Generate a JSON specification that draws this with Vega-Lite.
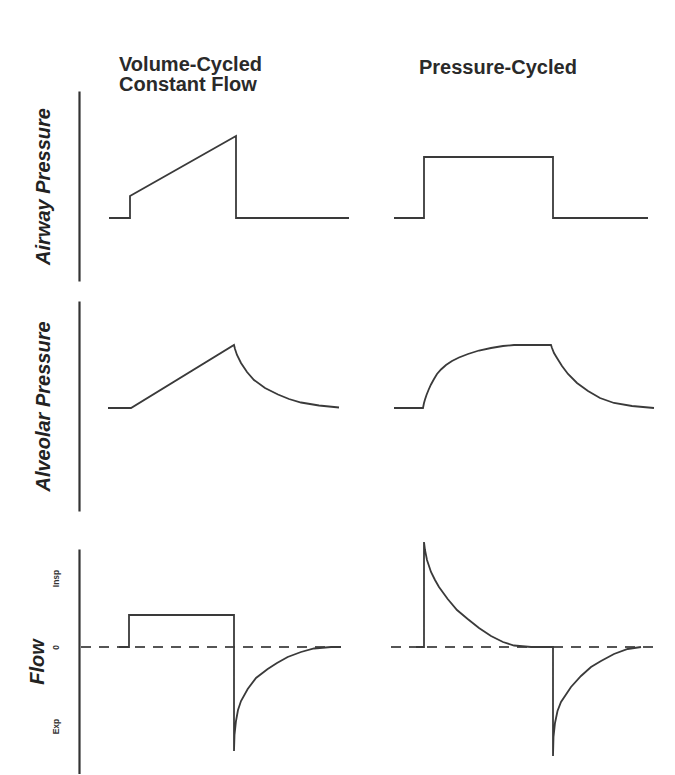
{
  "$schema": "https://vega.github.io/schema/vega-lite/v6.json",
  "autosize": {"type": "pad"},
  "padding": {"top": 54, "left": 27, "right": 5, "bottom": 0},
  "background": "white",
  "config": {
    "view": {"stroke": null},
    "font": "Liberation Sans",
    "axis": {
      "domainColor": "#333333",
      "domainWidth": 2.2,
      "ticks": false,
      "tickSize": 0,
      "grid": false,
      "labels": false,
      "titleFont": "Liberation Sans",
      "titleFontSize": 20,
      "titleFontWeight": "bold",
      "titleFontStyle": "italic",
      "titleColor": "#222222",
      "titlePadding": 26
    }
  },
  "datasets": {
    "traces": [
      {"row": "air", "s": "L", "i": 1, "x": 30, "y": 0},
      {"row": "air", "s": "L", "i": 2, "x": 51, "y": 0},
      {"row": "air", "s": "L", "i": 3, "x": 51, "y": 22},
      {"row": "air", "s": "L", "i": 4, "x": 157, "y": 82},
      {"row": "air", "s": "L", "i": 5, "x": 157, "y": 0},
      {"row": "air", "s": "L", "i": 6, "x": 270, "y": 0},
      {"row": "air", "s": "R", "i": 7, "x": 315, "y": 0},
      {"row": "air", "s": "R", "i": 8, "x": 345, "y": 0},
      {"row": "air", "s": "R", "i": 9, "x": 345, "y": 61},
      {"row": "air", "s": "R", "i": 10, "x": 474, "y": 61},
      {"row": "air", "s": "R", "i": 11, "x": 474, "y": 0},
      {"row": "air", "s": "R", "i": 12, "x": 569, "y": 0},

      {"row": "alv", "s": "L", "i": 1, "x": 29, "y": 0},
      {"row": "alv", "s": "L", "i": 2, "x": 52, "y": 0},
      {"row": "alv", "s": "L", "i": 3, "x": 155, "y": 63},
      {"row": "alv", "s": "L", "i": 4, "x": 156, "y": 59},
      {"row": "alv", "s": "L", "i": 5, "x": 158, "y": 53},
      {"row": "alv", "s": "L", "i": 6, "x": 162, "y": 45},
      {"row": "alv", "s": "L", "i": 7, "x": 168, "y": 36},
      {"row": "alv", "s": "L", "i": 8, "x": 175, "y": 28},
      {"row": "alv", "s": "L", "i": 9, "x": 186, "y": 20},
      {"row": "alv", "s": "L", "i": 10, "x": 199, "y": 13.5},
      {"row": "alv", "s": "L", "i": 11, "x": 210, "y": 9},
      {"row": "alv", "s": "L", "i": 12, "x": 222, "y": 5.5},
      {"row": "alv", "s": "L", "i": 13, "x": 240, "y": 2.5},
      {"row": "alv", "s": "L", "i": 14, "x": 260, "y": 0.5},
      {"row": "alv", "s": "R", "i": 15, "x": 315, "y": 0},
      {"row": "alv", "s": "R", "i": 16, "x": 344, "y": 0},
      {"row": "alv", "s": "R", "i": 17, "x": 345, "y": 5},
      {"row": "alv", "s": "R", "i": 18, "x": 346, "y": 8.5},
      {"row": "alv", "s": "R", "i": 19, "x": 347.5, "y": 13},
      {"row": "alv", "s": "R", "i": 20, "x": 349.5, "y": 18},
      {"row": "alv", "s": "R", "i": 21, "x": 352, "y": 23.5},
      {"row": "alv", "s": "R", "i": 22, "x": 355, "y": 29},
      {"row": "alv", "s": "R", "i": 23, "x": 358, "y": 34},
      {"row": "alv", "s": "R", "i": 24, "x": 362, "y": 38.5},
      {"row": "alv", "s": "R", "i": 25, "x": 367, "y": 43},
      {"row": "alv", "s": "R", "i": 26, "x": 373, "y": 47},
      {"row": "alv", "s": "R", "i": 27, "x": 380, "y": 50.5},
      {"row": "alv", "s": "R", "i": 28, "x": 389, "y": 54},
      {"row": "alv", "s": "R", "i": 29, "x": 400, "y": 57.5},
      {"row": "alv", "s": "R", "i": 30, "x": 412, "y": 60},
      {"row": "alv", "s": "R", "i": 31, "x": 424, "y": 62},
      {"row": "alv", "s": "R", "i": 32, "x": 435, "y": 63},
      {"row": "alv", "s": "R", "i": 33, "x": 472, "y": 63},
      {"row": "alv", "s": "R", "i": 34, "x": 473, "y": 60},
      {"row": "alv", "s": "R", "i": 35, "x": 475, "y": 55},
      {"row": "alv", "s": "R", "i": 36, "x": 478, "y": 50},
      {"row": "alv", "s": "R", "i": 37, "x": 483, "y": 42},
      {"row": "alv", "s": "R", "i": 38, "x": 489, "y": 34},
      {"row": "alv", "s": "R", "i": 39, "x": 498, "y": 25},
      {"row": "alv", "s": "R", "i": 40, "x": 509, "y": 17},
      {"row": "alv", "s": "R", "i": 41, "x": 521, "y": 10},
      {"row": "alv", "s": "R", "i": 42, "x": 535, "y": 5},
      {"row": "alv", "s": "R", "i": 43, "x": 553, "y": 2},
      {"row": "alv", "s": "R", "i": 44, "x": 575, "y": 0},

      {"row": "flow", "s": "L", "i": 1, "x": 40, "y": 0},
      {"row": "flow", "s": "L", "i": 2, "x": 50, "y": 0},
      {"row": "flow", "s": "L", "i": 3, "x": 50, "y": 32},
      {"row": "flow", "s": "L", "i": 4, "x": 155, "y": 32},
      {"row": "flow", "s": "L", "i": 5, "x": 155, "y": -104},
      {"row": "flow", "s": "L", "i": 6, "x": 155.5, "y": -88},
      {"row": "flow", "s": "L", "i": 7, "x": 157, "y": -74},
      {"row": "flow", "s": "L", "i": 8, "x": 159, "y": -63},
      {"row": "flow", "s": "L", "i": 9, "x": 162, "y": -54},
      {"row": "flow", "s": "L", "i": 10, "x": 168.7, "y": -42},
      {"row": "flow", "s": "L", "i": 11, "x": 177, "y": -31},
      {"row": "flow", "s": "L", "i": 12, "x": 188.7, "y": -22},
      {"row": "flow", "s": "L", "i": 13, "x": 198, "y": -16},
      {"row": "flow", "s": "L", "i": 14, "x": 208.7, "y": -10},
      {"row": "flow", "s": "L", "i": 15, "x": 222, "y": -5},
      {"row": "flow", "s": "L", "i": 16, "x": 235, "y": -1.5},
      {"row": "flow", "s": "L", "i": 17, "x": 252, "y": 0},
      {"row": "flow", "s": "L", "i": 18, "x": 262, "y": 0},
      {"row": "flow", "s": "R", "i": 19, "x": 337, "y": 0},
      {"row": "flow", "s": "R", "i": 20, "x": 345, "y": 0},
      {"row": "flow", "s": "R", "i": 21, "x": 345, "y": 105},
      {"row": "flow", "s": "R", "i": 22, "x": 346, "y": 97},
      {"row": "flow", "s": "R", "i": 23, "x": 348, "y": 87},
      {"row": "flow", "s": "R", "i": 24, "x": 352, "y": 75},
      {"row": "flow", "s": "R", "i": 25, "x": 356, "y": 67},
      {"row": "flow", "s": "R", "i": 26, "x": 360, "y": 60},
      {"row": "flow", "s": "R", "i": 27, "x": 368.7, "y": 48},
      {"row": "flow", "s": "R", "i": 28, "x": 378, "y": 37},
      {"row": "flow", "s": "R", "i": 29, "x": 388.7, "y": 28},
      {"row": "flow", "s": "R", "i": 30, "x": 400, "y": 19},
      {"row": "flow", "s": "R", "i": 31, "x": 412, "y": 11},
      {"row": "flow", "s": "R", "i": 32, "x": 424, "y": 5},
      {"row": "flow", "s": "R", "i": 33, "x": 435, "y": 1.5},
      {"row": "flow", "s": "R", "i": 34, "x": 452, "y": 0},
      {"row": "flow", "s": "R", "i": 35, "x": 474, "y": 0},
      {"row": "flow", "s": "R", "i": 36, "x": 474, "y": -109},
      {"row": "flow", "s": "R", "i": 37, "x": 474.5, "y": -90},
      {"row": "flow", "s": "R", "i": 38, "x": 476, "y": -76},
      {"row": "flow", "s": "R", "i": 39, "x": 478.5, "y": -64},
      {"row": "flow", "s": "R", "i": 40, "x": 482, "y": -55},
      {"row": "flow", "s": "R", "i": 41, "x": 492, "y": -40},
      {"row": "flow", "s": "R", "i": 42, "x": 502, "y": -29},
      {"row": "flow", "s": "R", "i": 43, "x": 512, "y": -20},
      {"row": "flow", "s": "R", "i": 44, "x": 522, "y": -14},
      {"row": "flow", "s": "R", "i": 45, "x": 535, "y": -7},
      {"row": "flow", "s": "R", "i": 46, "x": 548.7, "y": -2},
      {"row": "flow", "s": "R", "i": 47, "x": 562, "y": 0}
    ],
    "zero": [
      {"x": 2, "x2": 262, "y": 0},
      {"x": 312, "x2": 577, "y": 0}
    ],
    "heads": [
      {"x": 40, "y": 147, "t": "Volume-Cycled"},
      {"x": 40, "y": 127, "t": "Constant Flow"},
      {"x": 340, "y": 144, "t": "Pressure-Cycled"}
    ]
  },
  "spacing": 27,
  "vconcat": [
    {
      "spacing": 20,
      "vconcat": [
        {
          "width": 580,
          "height": 190,
          "encoding": {
            "x": {"field": "x", "type": "quantitative", "scale": {"domain": [0, 580], "nice": false, "zero": false}, "axis": null},
            "y": {"field": "y", "type": "quantitative", "scale": {"domain": [-63, 127], "nice": false, "zero": false}, "axis": {"title": "Airway Pressure"}}
          },
          "layer": [
            {
              "data": {"name": "traces"},
              "transform": [{"filter": "datum.row == 'air'"}],
              "mark": {"type": "line", "stroke": "#3a3a3a", "strokeWidth": 1.8, "strokeJoin": "miter"},
              "encoding": {
                "detail": {"field": "s", "type": "nominal"},
                "order": {"field": "i", "type": "quantitative"}
              }
            },
            {
              "data": {"name": "heads"},
              "mark": {"type": "text", "align": "left", "baseline": "alphabetic", "fontSize": 20, "fontWeight": "bold", "font": "Liberation Sans", "color": "#2a2a2a", "clip": false},
              "encoding": {
                "text": {"field": "t", "type": "nominal"}
              }
            }
          ]
        },
        {
          "width": 580,
          "height": 210,
          "data": {"name": "traces"},
          "transform": [{"filter": "datum.row == 'alv'"}],
          "mark": {"type": "line", "stroke": "#3a3a3a", "strokeWidth": 1.8, "strokeJoin": "miter"},
          "encoding": {
            "x": {"field": "x", "type": "quantitative", "scale": {"domain": [0, 580], "nice": false, "zero": false}, "axis": null},
            "y": {"field": "y", "type": "quantitative", "scale": {"domain": [-103, 107], "nice": false, "zero": false}, "axis": {"title": "Alveolar Pressure"}},
            "detail": {"field": "s", "type": "nominal"},
            "order": {"field": "i", "type": "quantitative"}
          }
        }
      ]
    },
    {
      "width": 580,
      "height": 225,
      "encoding": {
        "x": {"field": "x", "type": "quantitative", "scale": {"domain": [0, 580], "nice": false, "zero": false}, "axis": null},
        "y": {
          "field": "y",
          "type": "quantitative",
          "scale": {"domain": [-127, 98], "nice": false, "zero": false},
          "axis": {
            "title": "Flow",
            "labels": true,
            "values": [69, 0, -79],
            "labelExpr": "datum.value == 0 ? '0' : (datum.value > 0 ? 'Insp' : 'Exp')",
            "labelAngle": -90,
            "labelAlign": "center",
            "labelBaseline": "bottom",
            "labelFontSize": 8.5,
            "labelFontWeight": "bold",
            "labelColor": "#333333",
            "labelPadding": 19,
            "titlePadding": 4
          }
        }
      },
      "layer": [
        {
          "data": {"name": "zero"},
          "mark": {"type": "rule", "stroke": "#555555", "strokeWidth": 2, "strokeDash": [10, 8]},
          "encoding": {
            "x2": {"field": "x2"}
          }
        },
        {
          "data": {"name": "traces"},
          "transform": [{"filter": "datum.row == 'flow'"}],
          "mark": {"type": "line", "stroke": "#3a3a3a", "strokeWidth": 1.8, "strokeJoin": "miter"},
          "encoding": {
            "detail": {"field": "s", "type": "nominal"},
            "order": {"field": "i", "type": "quantitative"}
          }
        }
      ]
    }
  ]
}
